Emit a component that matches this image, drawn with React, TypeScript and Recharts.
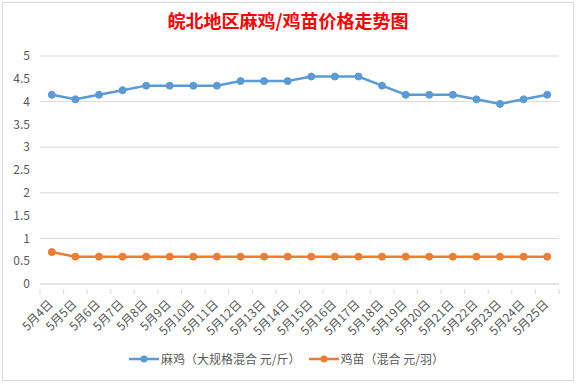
import React from 'react';
import { LineChart, Line, XAxis, YAxis, CartesianGrid, Legend } from 'recharts';

const categories = ['5月4日','5月5日','5月6日','5月7日','5月8日','5月9日','5月10日','5月11日','5月12日','5月13日','5月14日','5月15日','5月16日','5月17日','5月18日','5月19日','5月20日','5月21日','5月22日','5月23日','5月24日','5月25日'];
const majiValues = [4.15,4.05,4.15,4.25,4.35,4.35,4.35,4.35,4.45,4.45,4.45,4.55,4.55,4.55,4.35,4.15,4.15,4.15,4.05,3.95,4.05,4.15];
const jimiaoValues = [0.7,0.6,0.6,0.6,0.6,0.6,0.6,0.6,0.6,0.6,0.6,0.6,0.6,0.6,0.6,0.6,0.6,0.6,0.6,0.6,0.6,0.6];
const yTicks = [0,0.5,1,1.5,2,2.5,3,3.5,4,4.5,5];
const seriesNames = ['麻鸡（大规格混合 元/斤）', '鸡苗（混合 元/羽）'];
const seriesColors = ['#5B9BD5', '#ED7D31'];

const data = categories.map((c, i) => ({ name: c, maji: majiValues[i], jimiao: jimiaoValues[i] }));

const W = 576, H = 383;
const margin = { top: 56, right: 17, bottom: 0, left: 0 };
const yAxisWidth = 40;
const plotWidth = W - margin.left - margin.right - yAxisWidth;
const band = plotWidth / categories.length;
const FONT = '"Noto Sans CJK SC", "Noto Sans", sans-serif';

const XTick = (props: any) => {
  const { x, y, payload, index } = props;
  const half = band / 2;
  return (
    <g>
      <line x1={x - half} y1={y - 3} x2={x - half} y2={y + 2} stroke="#d9d9d9" />
      {index === categories.length - 1 && (
        <line x1={x + half} y1={y - 3} x2={x + half} y2={y + 2} stroke="#d9d9d9" />
      )}
      <text
        x={x + 2}
        y={y + 13}
        textAnchor="end"
        transform={`rotate(-45 ${x + 2} ${y + 13})`}
        fill="#595959"
        fontSize={12}
        fontFamily={FONT}
      >
        {payload.value}
      </text>
    </g>
  );
};

const LegendContent = () => (
  <div style={{ display: 'flex', justifyContent: 'center', alignItems: 'center', fontFamily: FONT, fontSize: 12, color: '#595959', paddingLeft: 14 }}>
    {seriesNames.map((n, i) => (
      <div key={n} style={{ display: 'flex', alignItems: 'center', marginRight: i === 0 ? 8 : 0 }}>
        <svg width={30} height={10} style={{ marginRight: 2 }}>
          <line x1={0} y1={5} x2={30} y2={5} stroke={seriesColors[i]} strokeWidth={2.5} />
          <circle cx={15} cy={5} r={3.5} fill={seriesColors[i]} />
        </svg>
        <span>{n}</span>
      </div>
    ))}
  </div>
);

export default function App() {
  return (
    <div style={{ position: 'absolute', left: 0, top: 0, width: W, height: H, background: '#fff' }}>
      <div style={{ position: 'absolute', left: 2, top: 2, width: 570, height: 377, border: '1px solid #d9d9d9' }} />
      <div
        style={{
          position: 'absolute',
          left: 0,
          top: 8,
          width: W,
          textAlign: 'center',
          color: '#ff0000',
          fontSize: 18,
          fontWeight: 'bold',
          fontFamily: FONT,
          lineHeight: '24px',
        }}
      >
        皖北地区麻鸡/鸡苗价格走势图
      </div>
      <div style={{ position: 'absolute', left: 0, top: 0 }}>
        <LineChart width={W} height={H} data={data} margin={margin}>
          <CartesianGrid vertical={false} stroke="#d9d9d9" />
          <XAxis
            dataKey="name"
            scale="band"
            interval={0}
            height={75}
            tickLine={false}
            axisLine={{ stroke: '#d9d9d9' }}
            tick={<XTick />}
          />
          <YAxis
            domain={[0, 5]}
            ticks={yTicks}
            width={yAxisWidth}
            axisLine={false}
            tickLine={false}
            tickSize={0}
            tickMargin={10}
            tick={{ fill: '#595959', fontSize: 12, fontFamily: FONT }}
          />
          <Legend
            verticalAlign="bottom"
            height={24}
            wrapperStyle={{ bottom: 9 }}
            content={<LegendContent />}
          />
          <Line
            name={seriesNames[0]}
            dataKey="maji"
            stroke={seriesColors[0]}
            strokeWidth={2.5}
            dot={{ r: 3.5, fill: seriesColors[0], stroke: seriesColors[0], strokeWidth: 1 }}
            isAnimationActive={false}
          />
          <Line
            name={seriesNames[1]}
            dataKey="jimiao"
            stroke={seriesColors[1]}
            strokeWidth={2.5}
            dot={{ r: 3.5, fill: seriesColors[1], stroke: seriesColors[1], strokeWidth: 1 }}
            isAnimationActive={false}
          />
        </LineChart>
      </div>
    </div>
  );
}
